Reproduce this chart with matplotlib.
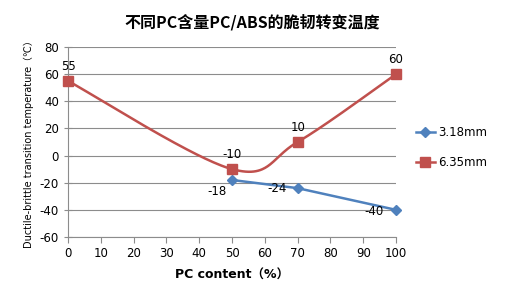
import numpy as np
import matplotlib
matplotlib.use("Agg")
import matplotlib.pyplot as plt

plt.rcParams['font.family'] = ['DejaVu Sans', 'Noto Sans CJK SC']
plt.rcParams['axes.unicode_minus'] = False

title = "不同PC含量PC/ABS的脆韧转变温度"
xlabel = "PC content（%）"
ylabel = "Ductile-brittle transition temperature（℃）"

x_318 = [50, 70, 100]
y_318 = [-18, -24, -40]
x_635 = [0, 50, 70, 100]
y_635 = [55, -10, 10, 60]
labels = ["3.18mm", "6.35mm"]

blue = "#4F81BD"
red = "#C0504D"


def smooth(xs, ys, n=60):
    P = np.column_stack([xs, ys]).astype(float)
    out = [P[0]]
    for i in range(len(P) - 1):
        p0 = P[i - 1] if i > 0 else P[i]
        p1 = P[i]
        p2 = P[i + 1]
        p3 = P[i + 2] if i + 2 < len(P) else P[i + 1]
        c1 = p1 + (p2 - p0) / 6
        c2 = p2 - (p3 - p1) / 6
        t = np.linspace(0, 1, n)[1:, None]
        seg = (1 - t) ** 3 * p1 + 3 * (1 - t) ** 2 * t * c1 + 3 * (1 - t) * t ** 2 * c2 + t ** 3 * p2
        out.extend(seg)
    out = np.array(out)
    return out[:, 0], out[:, 1]


fig = plt.figure(figsize=(5.26, 2.98), dpi=100)
ax = fig.add_axes([0.1293, 0.2047, 0.6236, 0.6376])

ax.set_xlim(0, 100)
ax.set_ylim(-60, 80)
ax.set_xticks(np.arange(0, 101, 10))
ax.set_yticks(np.arange(-60, 81, 20))
ax.yaxis.grid(True, color="#8c8c8c", linewidth=0.8)
ax.set_axisbelow(True)
for s in ["top", "right"]:
    ax.spines[s].set_visible(False)
ax.spines["left"].set_color("#8c8c8c")
ax.spines["bottom"].set_color("#8c8c8c")
ax.tick_params(axis="both", labelsize=8.5, colors="#8c8c8c", labelcolor="black", length=4)
ax.tick_params(axis="y", direction="inout", length=6)
ax.tick_params(axis="x", direction="out")

l1, = ax.plot(x_318, y_318, color=blue, lw=1.8, marker="D", ms=5, mfc=blue, mec=blue, clip_on=False, zorder=3)
sx, sy = smooth(x_635, y_635)
ax.plot(sx, sy, color=red, lw=1.8, clip_on=False, zorder=3)
ax.plot(x_635, y_635, ls="none", marker="s", ms=6.5, color=red, clip_on=False, zorder=4)
l2, = ax.plot([], [], color=red, lw=1.8, marker="s", ms=6.5)

for xv, yv in zip(x_635, y_635):
    ax.annotate(str(yv), (xv, yv), xytext=(0, 6), textcoords="offset points",
                ha="center", va="bottom", fontsize=8.5)
blue_offsets = [(-4, -8), (-8, 0), (-9, -1)]
for (xv, yv), off in zip(zip(x_318, y_318), blue_offsets):
    ax.annotate(str(yv), (xv, yv), xytext=off, textcoords="offset points",
                ha="right", va="center", fontsize=8.5)

ax.set_xlabel(xlabel, fontsize=9, fontweight="bold", labelpad=6,
              family=['DejaVu Sans', 'Noto Sans CJK SC'])
ax.set_ylabel(ylabel, fontsize=7, labelpad=4,
              family=['DejaVu Sans', 'Noto Sans CJK SC'])
fig.text(0.48, 0.925, title, ha="center", va="center", fontsize=11.5, fontweight="bold",
         family=['Noto Sans CJK SC', 'DejaVu Sans'])

fig.legend([l1, l2], labels, loc="center left", bbox_to_anchor=(0.77, 0.505),
           frameon=False, fontsize=8.5, handlelength=1.6, handletextpad=0.3, labelspacing=1.4)

fig.savefig("out.png", dpi=100)
